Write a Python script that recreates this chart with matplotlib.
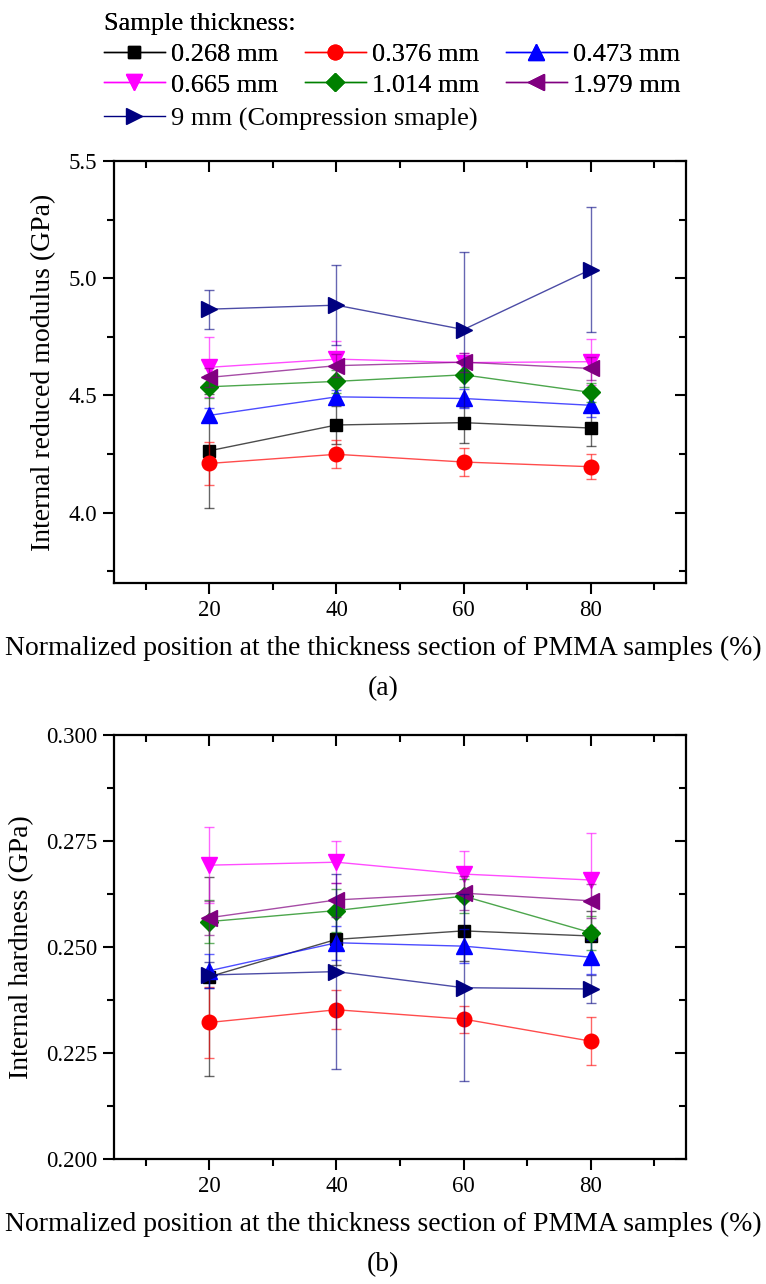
import matplotlib
matplotlib.use("Agg")
import matplotlib.pyplot as plt
from matplotlib.lines import Line2D
from matplotlib.ticker import MultipleLocator, FormatStrFormatter

plt.rcParams['font.family'] = ['Liberation Serif', 'DejaVu Serif']

# normalized position through the thickness (%)
positions = [20, 40, 60, 80]

labels = ['0.268 mm', '0.376 mm', '0.473 mm', '0.665 mm',
          '1.014 mm', '1.979 mm', '9 mm (Compression smaple)']
colors = ['#000000', '#ff0000', '#0000ff', '#ff00ff',
          '#008000', '#800080', '#000080']
markers = ['s', 'o', '^', 'v', 'D', '<', '>']
msizes = [9, 10.5, 11.5, 11.5, 9.5, 11.5, 11.5]

# (a) internal reduced modulus, GPa
mod_0268 = [4.264, 4.374, 4.384, 4.361]
mod_0376 = [4.210, 4.249, 4.216, 4.196]
mod_0473 = [4.415, 4.494, 4.487, 4.458]
mod_0665 = [4.620, 4.655, 4.640, 4.644]
mod_1014 = [4.537, 4.560, 4.588, 4.513]
mod_1979 = [4.577, 4.627, 4.642, 4.615]
mod_9mm = [4.868, 4.885, 4.781, 5.037]

mod_err_0268 = [0.243, 0.080, 0.086, 0.077]
mod_err_0376 = [0.090, 0.060, 0.060, 0.054]
mod_err_0473 = [0.030, 0.030, 0.040, 0.050]
mod_err_0665 = [0.128, 0.077, 0.040, 0.098]
mod_err_1014 = [0.050, 0.050, 0.050, 0.040]
mod_err_1979 = [0.040, 0.050, 0.040, 0.050]
mod_err_9mm = [0.083, 0.170, 0.330, 0.265]

# (b) internal hardness, GPa
hard_0268 = [0.2430, 0.2518, 0.2538, 0.2526]
hard_0376 = [0.2322, 0.2352, 0.2330, 0.2278]
hard_0473 = [0.2444, 0.2510, 0.2502, 0.2476]
hard_0665 = [0.2693, 0.2700, 0.2672, 0.2658]
hard_1014 = [0.2560, 0.2586, 0.2620, 0.2534]
hard_1979 = [0.2569, 0.2611, 0.2627, 0.2609]
hard_9mm = [0.2434, 0.2442, 0.2404, 0.2401]

hard_err_0268 = [0.0234, 0.0060, 0.0070, 0.0060]
hard_err_0376 = [0.0084, 0.0046, 0.0032, 0.0056]
hard_err_0473 = [0.0040, 0.0040, 0.0040, 0.0040]
hard_err_0665 = [0.0090, 0.0050, 0.0054, 0.0110]
hard_err_1014 = [0.0050, 0.0050, 0.0040, 0.0040]
hard_err_1979 = [0.0040, 0.0040, 0.0040, 0.0040]
hard_err_9mm = [0.0030, 0.0230, 0.0220, 0.0034]

modulus = [mod_0268, mod_0376, mod_0473, mod_0665, mod_1014, mod_1979, mod_9mm]
modulus_err = [mod_err_0268, mod_err_0376, mod_err_0473, mod_err_0665,
               mod_err_1014, mod_err_1979, mod_err_9mm]
hardness = [hard_0268, hard_0376, hard_0473, hard_0665, hard_1014, hard_1979, hard_9mm]
hardness_err = [hard_err_0268, hard_err_0376, hard_err_0473, hard_err_0665,
                hard_err_1014, hard_err_1979, hard_err_9mm]

W, H = 766, 1284
fig = plt.figure(figsize=(W / 100, H / 100), dpi=100)
pos1 = [114 / W, 1 - 583 / H, 572 / W, 422 / H]
pos2 = [114 / W, 1 - 1159 / H, 572 / W, 424 / H]
ax1 = fig.add_axes(pos1)
ax2 = fig.add_axes(pos2)


def draw(ax, values, errors):
    for y, e, c, m, s in zip(values, errors, colors, markers, msizes):
        ax.plot(positions, y, '-', color=c, lw=1, alpha=0.7)
        ax.errorbar(positions, y, yerr=e, fmt='none', ecolor=c, elinewidth=1,
                    capsize=3.5, capthick=1, alpha=0.6)
        ax.plot(positions, y, ls='none', marker=m, ms=s, color=c, mec=c)


def style(ax, pos, ylim, ymaj, yminor, fmt):
    # overlay axes only for the inward ticks on top and right
    over = fig.add_axes(pos, frameon=False)
    for a in (ax, over):
        a.set_xlim(5, 95)
        a.set_ylim(*ylim)
        a.xaxis.set_major_locator(MultipleLocator(20))
        a.xaxis.set_minor_locator(MultipleLocator(10))
        a.yaxis.set_major_locator(MultipleLocator(ymaj))
        a.yaxis.set_minor_locator(MultipleLocator(yminor))
    for s in ax.spines.values():
        s.set_linewidth(1.6)
    ax.yaxis.set_major_formatter(FormatStrFormatter(fmt))
    ax.tick_params(which='major', direction='out', length=8, width=1.5,
                   labelsize=16.5, pad=4)
    ax.tick_params(which='minor', direction='out', length=5, width=1.5)
    over.tick_params(which='both', direction='in', width=1.5,
                     bottom=False, left=False, top=True, right=True,
                     labelbottom=False, labelleft=False)
    over.tick_params(which='major', length=8)
    over.tick_params(which='minor', length=5)
    over.patch.set_visible(False)


style(ax1, pos1, (3.7, 5.5), 0.5, 0.25, '%.1f')
style(ax2, pos2, (0.200, 0.300), 0.025, 0.0125, '%.3f')

draw(ax1, modulus, modulus_err)
draw(ax2, hardness, hardness_err)

xlabel = 'Normalized position at the thickness section of PMMA samples (%)'
fig.text(0.5, 1 - 648 / H, xlabel, ha='center', va='center', fontsize=20)
fig.text(0.5, 1 - 1224 / H, xlabel, ha='center', va='center', fontsize=20)
fig.text(383 / W, 1 - 689 / H, '(a)', ha='center', va='center', fontsize=20)
fig.text(383 / W, 1 - 1265 / H, '(b)', ha='center', va='center', fontsize=20)
fig.text(44 / W, 1 - 372 / H, 'Internal reduced modulus (GPa)', rotation=90,
         ha='center', va='center', fontsize=20)
fig.text(22 / W, 1 - 947 / H, 'Internal hardness (GPa)', rotation=90,
         ha='center', va='center', fontsize=20)

handles = [Line2D([], [], color=c, lw=1, marker=m, ms=s, mec=c)
           for c, m, s in zip(colors, markers, msizes)]

# first two rows, filled row by row
order = [0, 3, 1, 4, 2, 5]
leg_kw = dict(loc='upper left', frameon=False, fontsize=19, handlelength=2.3,
              handletextpad=0.25, columnspacing=1.0, labelspacing=0.28,
              borderpad=0.0, borderaxespad=0.0)
leg1 = fig.legend([handles[i] for i in order], [labels[i] for i in order],
                  bbox_to_anchor=(104 / W, 1 - 13 / H), ncol=3,
                  title='Sample thickness:', alignment='left',
                  title_fontsize=19, **leg_kw)
fig.add_artist(leg1)
fig.legend([handles[6]], [labels[6]], bbox_to_anchor=(104 / W, 1 - 107 / H),
           **leg_kw)

fig.savefig('out.png', dpi=100)
